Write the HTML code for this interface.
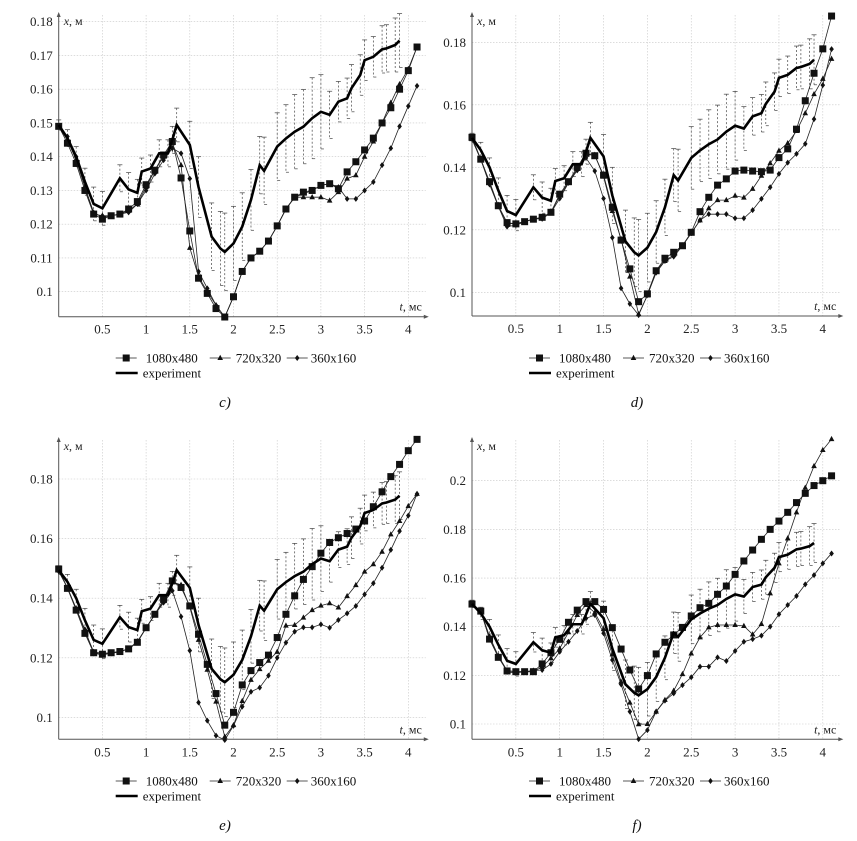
<!DOCTYPE html>
<html><head><meta charset="utf-8"><style>
html,body{margin:0;padding:0;background:#fff;}
svg{display:block;}
text{font-family:"Liberation Serif","DejaVu Serif",serif;}
</style></head><body>
<svg id="fig" width="857" height="841" viewBox="0 0 857 841" xmlns="http://www.w3.org/2000/svg" font-family="Liberation Serif, DejaVu Serif, serif"></svg>
<script>
// simulation times (ms)
const simT = [0,0.1,0.2,0.3,0.4,0.5,0.6,0.7,0.8,0.9,1.0,1.1,1.2,1.3,1.4,1.5,1.6,1.7,1.8,1.9,2.0,2.1,2.2,2.3,2.4,2.5,2.6,2.7,2.8,2.9,3.0,3.1,3.2,3.3,3.4,3.5,3.6,3.7,3.8,3.9,4.0,4.1];
// experiment
const expT = [0,0.1,0.2,0.3,0.4,0.5,0.7,0.8,0.9,0.95,1.05,1.15,1.25,1.3,1.35,1.5,1.6,1.75,1.85,1.9,2.0,2.1,2.2,2.3,2.35,2.5,2.6,2.7,2.8,2.9,3.0,3.1,3.2,3.3,3.35,3.45,3.5,3.6,3.7,3.75,3.85,3.9];
const expX = [.1494,.1455,.140,.1326,.126,.1247,.1336,.1303,.1293,.1356,.1365,.141,.141,.145,.1494,.1435,.131,.1163,.1128,.1118,.1143,.1193,.1272,.1375,.1358,.143,.1454,.1474,.1489,.1514,.1533,.1524,.1563,.1573,.1603,.1642,.1686,.1696,.1718,.1721,.1731,.1744];
const expErr = [.0015,.0025,.003,.004,.005,.005,.004,.005,.004,.004,.004,.004,.004,.004,.005,.007,.009,.01,.011,.0115,.011,.01,.009,.0085,.01,.01,.01,.011,.011,.012,.011,.007,.006,.006,.007,.006,.006,.006,.007,.007,.008,.008];
// panel c
const cSq  = [.149,.144,.138,.130,.123,.1215,.1225,.123,.1245,.1267,.1317,.136,.1405,.1445,.1337,.118,.104,.0995,.095,.0925,.0985,.106,.110,.112,.115,.1195,.1245,.128,.1295,.130,.1315,.132,.1305,.1355,.1385,.142,.1455,.150,.1545,.160,.1655,.1725];
const cTri = [.149,.145,.139,.131,.1235,.122,.1225,.123,.124,.126,.131,.136,.140,.144,.1375,.113,.1045,.100,.096,.0925,.0985,.106,.110,.112,.115,.1195,.1245,.128,.128,.128,.128,.127,.1295,.1335,.1345,.140,.1445,.150,.156,.1615,.166,.1725];
const cDia = [.149,.146,.140,.131,.123,.1225,.1225,.123,.1235,.126,.130,.135,.139,.1425,.141,.1335,.106,.101,.096,.0925,.0985,.106,.110,.112,.115,.1195,.1245,.128,.129,.130,.1315,.132,.131,.1275,.1275,.130,.1325,.1375,.1425,.149,.155,.161];
// panel d
const dSq  = [.1496,.1426,.1354,.1277,.1223,.1219,.1226,.1234,.124,.1256,.1314,.1354,.140,.1445,.1437,.1375,.1272,.1167,.1075,.097,.0995,.1069,.1109,.1128,.1149,.1192,.1258,.1304,.1343,.1363,.1388,.1391,.1388,.1386,.1391,.1431,.1459,.1522,.1613,.1701,.1779,.1884];
const dTri = [.149,.1425,.135,.1275,.122,.122,.1226,.1234,.124,.1256,.131,.135,.1395,.144,.144,.137,.126,.117,.105,.093,.099,.107,.110,.112,.115,.119,.123,.1269,.1295,.1295,.1309,.1303,.1331,.1373,.1413,.1453,.1477,.1516,.1573,.1634,.1683,.1747];
const dDia = [.149,.1425,.1345,.1275,.121,.1215,.1225,.1235,.1235,.1255,.130,.135,.139,.143,.1388,.130,.1175,.1013,.0963,.0927,.0991,.1063,.110,.1114,.1149,.1189,.1231,.125,.125,.125,.1237,.1237,.1263,.1299,.1336,.1379,.1415,.1443,.1475,.1554,.1663,.1778];
// panel e
const eSq  = [.1498,.1433,.136,.1282,.1217,.1212,.1217,.1221,.123,.1252,.1301,.1346,.1396,.1458,.1436,.1374,.1279,.1178,.108,.0974,.1017,.1109,.1157,.1184,.1209,.1268,.1346,.1408,.1463,.1506,.1551,.1587,.1603,.1617,.1632,.1659,.1707,.1757,.1808,.1849,.1895,.1933];
const eTri = [.1495,.1435,.1365,.129,.122,.1215,.1217,.1221,.123,.1252,.130,.1345,.139,.1455,.1445,.137,.126,.116,.1053,.0935,.0974,.1055,.1126,.1162,.119,.122,.1308,.131,.1335,.136,.1375,.1383,.1369,.1407,.1444,.1489,.1514,.1556,.1614,.1659,.1709,.175];
const eDia = [.149,.1435,.1365,.1295,.1215,.121,.1215,.122,.123,.1255,.130,.1345,.1385,.1425,.1338,.1224,.105,.0989,.0939,.0924,.0972,.1036,.1086,.110,.114,.120,.1251,.1288,.1302,.1302,.1312,.1301,.1327,.1349,.1374,.1413,.145,.1502,.1562,.1625,.1677,.175];
// panel f
const fSq  = [.1493,.1464,.1349,.1274,.1218,.1215,.1215,.1215,.1247,.1293,.1348,.1418,.1468,.1503,.1503,.1471,.1396,.1308,.1222,.1144,.1199,.1288,.1336,.1366,.1397,.1444,.1478,.1496,.1533,.1567,.1615,.167,.1715,.1759,.180,.1834,.187,.191,.1948,.198,.200,.202];
const fTri = [.1493,.1464,.136,.128,.122,.1215,.1215,.1215,.1235,.127,.131,.1377,.1448,.1489,.1458,.139,.1286,.1174,.1088,.0999,.100,.1051,.1099,.1137,.1205,.129,.1356,.1397,.1407,.1407,.1407,.1403,.1368,.1411,.1537,.166,.1763,.187,.1971,.206,.2126,.2171];
const fDia = [.1493,.1464,.135,.128,.1214,.121,.1215,.122,.1222,.1247,.1297,.1338,.1382,.1434,.1448,.1373,.1263,.1163,.1051,.0938,.0975,.1051,.1096,.1126,.116,.1192,.1236,.1236,.1274,.1259,.130,.1338,.1349,.1363,.140,.1451,.1489,.1526,.1574,.1612,.166,.1701];
// tick labels
const xTicks = [0.5,1,1.5,2,2.5,3,3.5,4];
const xTickLabels = ["0.5","1","1.5","2","2.5","3","3.5","4"];
const yTicksC = [0.1,0.11,0.12,0.13,0.14,0.15,0.16,0.17,0.18];
const yTicksD = [0.1,0.12,0.14,0.16,0.18];
const yTicksE = [0.1,0.12,0.14,0.16,0.18];
const yTicksF = [0.1,0.12,0.14,0.16,0.18,0.2];
const legendLabels = ["1080x480","720x320","360x160","experiment"];

const NS="http://www.w3.org/2000/svg";
const FF="Liberation Serif, DejaVu Serif, serif";
const fig=document.getElementById('fig');
function mk(tag,attrs,parent){const e=document.createElementNS(NS,tag);if(tag==='text')e.setAttribute('font-family',FF);for(const k in attrs)e.setAttribute(k,attrs[k]);(parent||fig).appendChild(e);return e;}

function panel(cfg){
  const g=mk('g',{});
  
  
  const X=t=>cfg.ox+t*cfg.pxms;
  const Y=v=>cfg.y0+(cfg.vTop-v)*cfg.pxv;
  const xEnd=cfg.ox+4.2*cfg.pxms, yTopAx=cfg.axTop;
  const grid=mk('g',{stroke:'#c8c8c8','stroke-width':0.6,'stroke-dasharray':'1.5,1.5'},g);
  
  
  xTicks.forEach(t=>mk('line',{x1:X(t),x2:X(t),y1:yTopAx,y2:cfg.axY},grid));
  cfg.yTicks.forEach(v=>mk('line',{x1:cfg.ox,x2:xEnd,y1:Y(v),y2:Y(v)},grid));
  const xa=mk('line',{x1:cfg.ox,x2:xEnd,y1:cfg.axY,y2:cfg.axY,stroke:'#555','stroke-width':1},g);
  
  
  mk('path',{d:`M${xEnd+3},${cfg.axY} l-5,-2 v4 z`,fill:'#555'},g);
  const ya=mk('line',{x1:cfg.ox,x2:cfg.ox,y1:cfg.axY,y2:yTopAx,stroke:'#555','stroke-width':1},g);
  
  
  mk('path',{d:`M${cfg.ox},${yTopAx-3} l-2,5 h4 z`,fill:'#555'},g);
  xTicks.forEach((t,i)=>{const tx=mk('text',{x:X(t),y:cfg.axY+17,'text-anchor':'middle','font-size':13,fill:'#222'},g);tx.textContent=xTickLabels[i];
    
    });
  cfg.yTicks.forEach(v=>{const tx=mk('text',{x:cfg.ox-6,y:Y(v)+4.5,'text-anchor':'end','font-size':13,fill:'#222'},g);tx.textContent=String(+v.toFixed(2));
    
    });
  const yl=mk('text',{x:cfg.ox+5,y:yTopAx+10,'font-size':12,fill:'#222'},g);
  yl.innerHTML='<tspan font-style="italic">x</tspan>, м';
  
  
  const xl=mk('text',{x:xEnd-4,y:cfg.axY-6,'font-size':12,'text-anchor':'end',fill:'#222'},g);
  xl.innerHTML='<tspan font-style="italic">t</tspan>, мс';
  
  
  const eb=mk('g',{stroke:'#444','stroke-width':0.7},g);
  
  
  expT.forEach((t,i)=>{const x=X(t),y1=Y(expX[i]+expErr[i]),y2=Y(expX[i]-expErr[i]);
    mk('line',{x1:x,x2:x,y1:y1,y2:y2,'stroke-dasharray':'2,2'},eb);
    mk('line',{x1:x-2.5,x2:x+2.5,y1:y1,y2:y1},eb);
    mk('line',{x1:x,x2:x+3,y1:y2,y2:y2},eb);});
  function series(vals,marker,name){
    const sg=mk('g',{},g);
    
    
    mk('polyline',{points:simT.map((t,i)=>X(t)+','+Y(vals[i])).join(' '),fill:'none',stroke:'#222','stroke-width':0.8},sg);
    simT.forEach((t,i)=>drawMarker(sg,marker,X(t),Y(vals[i])));
  }
  series(cfg.dia,'dia','series-360x160');
  series(cfg.tri,'tri','series-720x320');
  series(cfg.sq,'sq','series-1080x480');
  const ex=mk('polyline',{points:expT.map((t,i)=>X(t)+','+Y(expX[i])).join(' '),fill:'none',stroke:'#000','stroke-width':2.6,'stroke-linejoin':'miter'},g);
  
  
  const L=mk('g',{},g);
  
  
  const lx=cfg.ox+57, ly=cfg.legY;
  const items=[[lx,'sq',lx+30],[lx+94,'tri',lx+120],[lx+171,'dia',lx+195]];
  items.forEach((it,i)=>{
    mk('line',{x1:it[0],x2:it[0]+21,y1:ly,y2:ly,stroke:'#222','stroke-width':0.8},L);
    drawMarker(L,it[1],it[0]+10.5,ly);
    const tx=mk('text',{x:it[2],y:ly+4.5,'font-size':13,fill:'#111'},L);tx.textContent=legendLabels[i];
    
    
  });
  mk('line',{x1:lx,x2:lx+22,y1:ly+15,y2:ly+15,stroke:'#000','stroke-width':2.6},L);
  const et=mk('text',{x:lx+27,y:ly+19.5,'font-size':13,fill:'#111'},L);et.textContent=legendLabels[3];
  
  
  const cap=mk('text',{x:cfg.capX,y:cfg.legY+49,'font-size':15,'font-style':'italic','text-anchor':'middle',fill:'#111'},g);
  cap.textContent=cfg.cap;
  
  
}
function drawMarker(p,m,x,y){
  if(m==='sq')mk('rect',{x:x-3.5,y:y-3.5,width:7,height:7,fill:'#111'},p);
  else if(m==='tri')mk('path',{d:`M${x},${y-3.2} L${x+2.8},${y+2} L${x-2.8},${y+2} Z`,fill:'#111'},p);
  else mk('path',{d:`M${x},${y-3} L${x+2.3},${y} L${x},${y+3} L${x-2.3},${y} Z`,fill:'#111'},p);
}
panel({name:'panel-c',ox:58.7,pxms:87.4,axY:316.7,axTop:15,y0:21.7,vTop:0.18,pxv:3375,yTicks:yTicksC,sq:cSq,tri:cTri,dia:cDia,legY:358,capX:225,cap:'c)'});
panel({name:'panel-d',ox:472,pxms:87.7,axY:316,axTop:15,y0:42.3,vTop:0.18,pxv:3125,yTicks:yTicksD,sq:dSq,tri:dTri,dia:dDia,legY:358,capX:637,cap:'d)'});
panel({name:'panel-e',ox:58.7,pxms:87.4,axY:739.3,axTop:440,y0:479,vTop:0.18,pxv:2980,yTicks:yTicksE,sq:eSq,tri:eTri,dia:eDia,legY:781,capX:225,cap:'e)'});
panel({name:'panel-f',ox:472,pxms:87.7,axY:739.3,axTop:440,y0:480.7,vTop:0.2,pxv:2433,yTicks:yTicksF,sq:fSq,tri:fTri,dia:fDia,legY:781,capX:637,cap:'f)'});
</script>
</body></html>
